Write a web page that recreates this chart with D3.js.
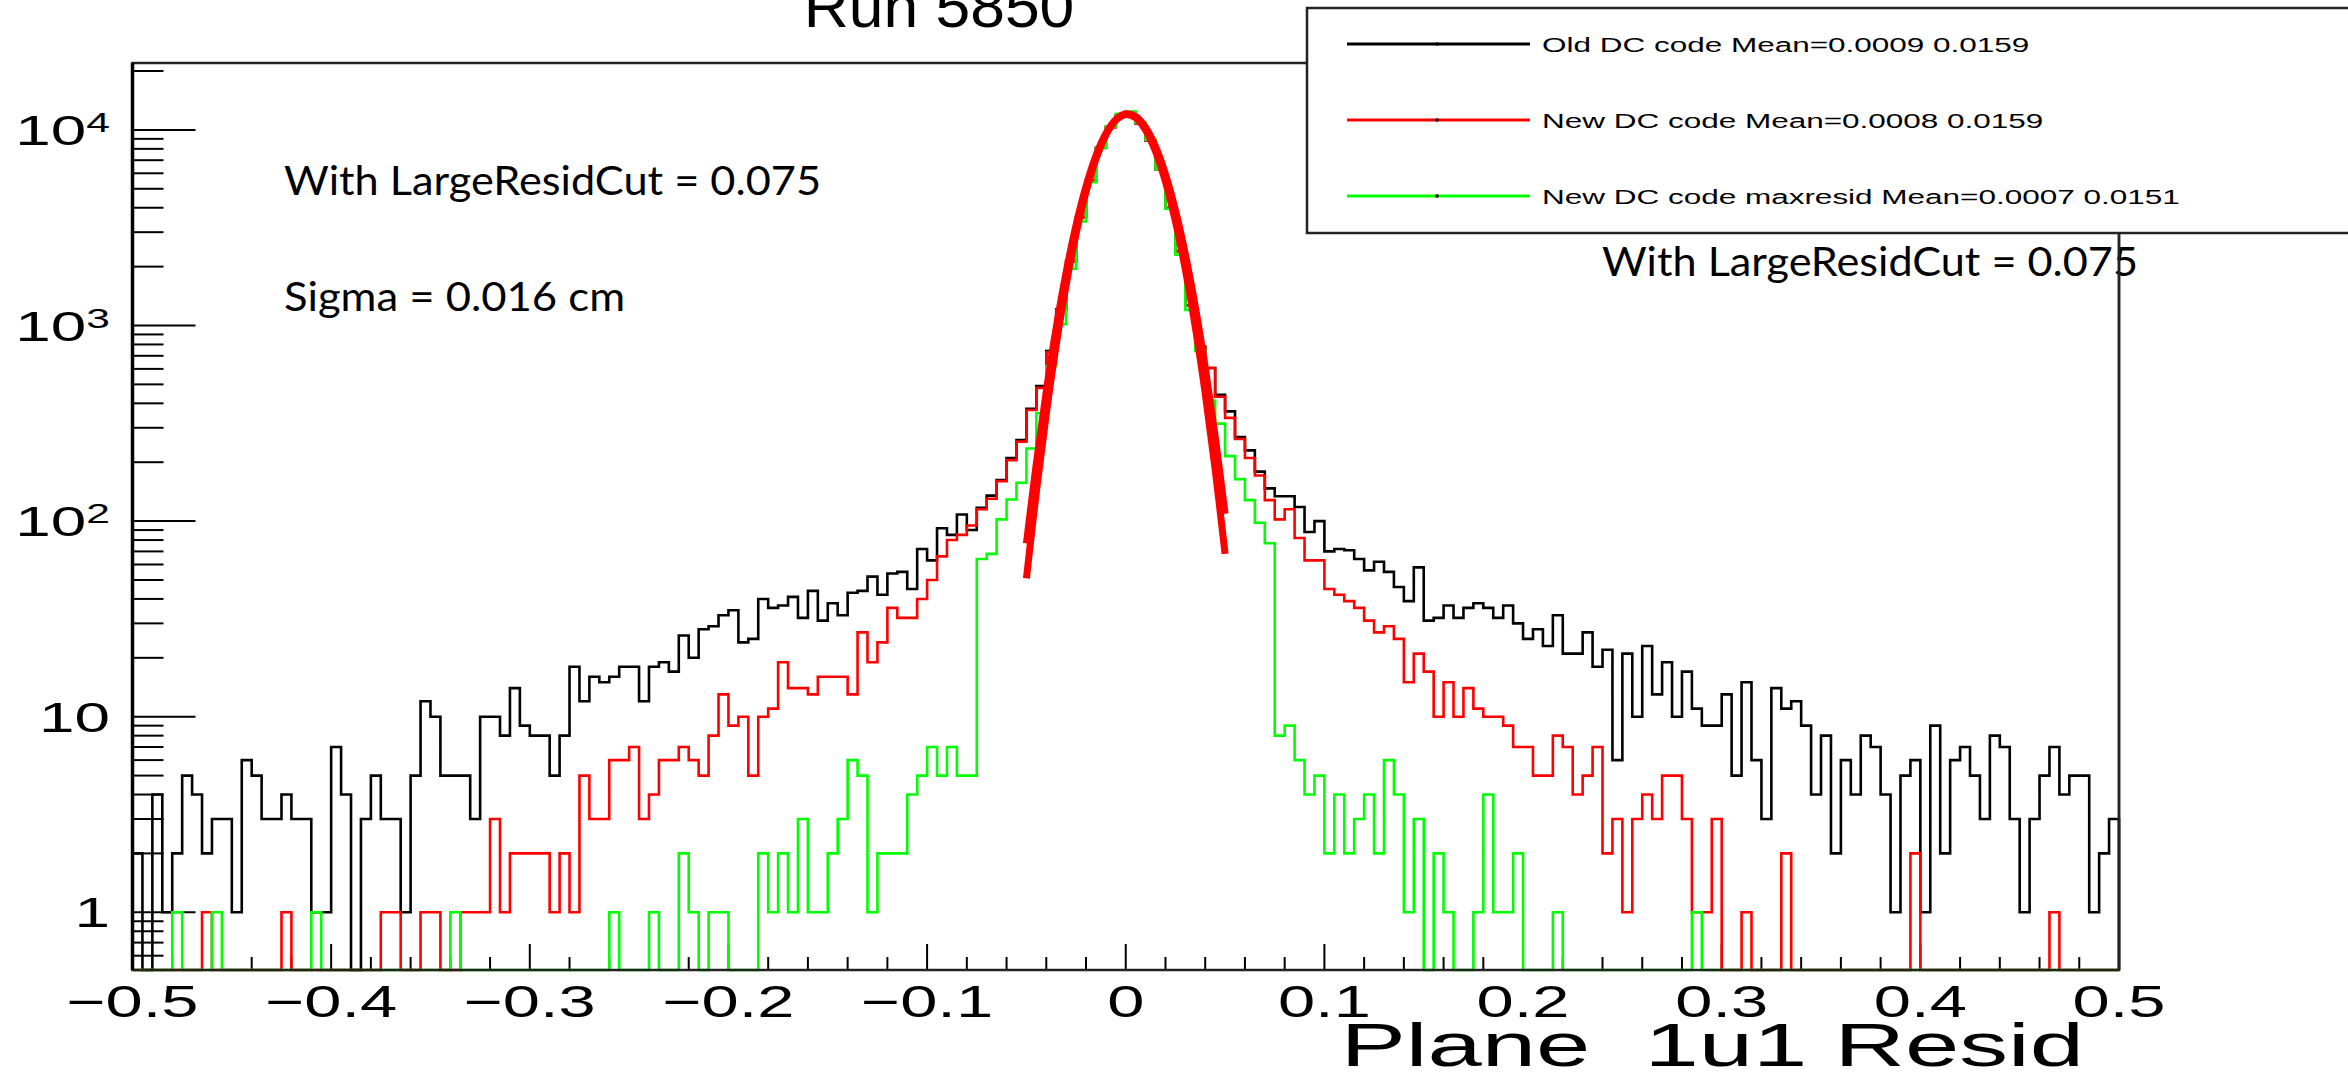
<!DOCTYPE html>
<html><head><meta charset="utf-8">
<script src="https://cdn.jsdelivr.net/npm/d3@7"></script>
<style>body{margin:0;background:#fff;overflow:hidden} text{white-space:pre}</style>
</head><body>
<svg id="c" width="2348" height="1076" xmlns="http://www.w3.org/2000/svg"></svg>
<script>
// ---------- data ----------
const xMin = -0.5, xMax = 0.5, binWidth = 0.005;
const oldCounts = [
2,0,4,1,2,5,4,2,3,3,1,6,5,3,3,4,3,3,1,1,
7,4,0,3,5,3,3,1,5,12,10,5,5,5,3,10,10,8,14,9,
8,8,5,8,18,12,16,15,16,18,18,12,18,19,17,26,20,28,29,33,
35,24,25,40,36,37,41,32,44,31,38,33,43,44,52,42,54,55,45,72,
63,92,85,108,90,117,135,162,210,260,375,490,740,1210,2140,3590,5500,8100,10350,11860,
12100,10800,8840,6300,4000,2400,1270,780,606,442,364,269,230,179,147,134,134,118,88,100,
70,72,71,64,56,62,55,46,39,58,31,32,37,32,36,38,36,32,37,30,
25,28,23,33,21,21,27,18,22,6,21,10,23,13,19,10,17,11,9,9,
13,5,15,6,3,14,11,12,9,4,8,2,6,4,8,7,4,1,5,6,
1,9,2,6,7,5,3,8,7,3,1,3,5,7,4,5,5,1,2,3];
const newCounts = [
0,0,0,0,0,0,0,1,0,0,0,0,0,0,0,1,0,0,0,0,
0,0,0,0,0,1,1,0,0,1,1,0,0,1,1,1,3,1,2,2,
2,2,1,2,1,5,3,3,6,6,7,3,4,6,6,7,6,5,8,13,
9,10,5,10,11,19,14,14,13,16,16,16,13,27,19,24,36,32,32,40,
50,66,80,85,95,115,130,160,205,255,370,480,730,1200,2120,3570,5480,8080,10330,11850,
12100,10800,8830,6280,3980,2390,1265,770,606,432,337,263,210,171,128,102,115,82,63,63,
45,42,39,36,31,27,29,25,15,21,17,10,15,10,14,11,10,10,9,7,
7,5,5,8,7,4,5,7,2,3,1,3,4,3,5,5,3,1,1,3,
0,0,1,0,0,0,2,0,0,0,0,0,0,0,0,0,0,0,0,2,
0,0,0,0,0,0,0,0,0,0,0,0,0,1,0,0,0,0,0,0];
const maxresidCounts = [
0,0,0,0,1,0,0,0,1,0,0,0,0,0,0,0,0,0,1,0,
0,0,0,0,0,0,0,0,0,0,0,0,1,0,0,0,0,0,0,0,
0,0,0,0,0,0,0,0,1,0,0,0,1,0,0,2,1,0,1,1,
0,0,0,2,1,2,1,3,1,1,2,3,6,5,1,2,2,2,4,5,
7,5,7,5,5,64,68,102,129,157,235,357,620,1016,1950,3400,5400,8100,10400,12100,
12400,10900,8900,6300,3950,2300,1200,742,413,315,215,164,128,98,77,8,9,6,4,5,
2,4,2,3,4,2,6,4,1,3,0,2,1,0,0,1,4,1,1,2,
0,0,0,1,0,0,0,0,0,0,0,0,0,0,0,0,0,1,0,0,
0,0,0,0,0,0,0,0,0,0,0,0,0,0,0,0,0,0,0,0,
0,0,0,0,0,0,0,0,0,0,0,0,0,0,0,0,0,0,0,0];
// gaussian fit curves
const fitX = [-0.05,-0.045,-0.04,-0.035,-0.03,-0.025,-0.02,-0.015,-0.01,-0.005,0,0.005,0.01,0.015,0.02,0.025,0.03,0.035,0.04,0.045,0.05];
const fitOld = [77,198,461,976,1874,3264,5156,7385,9594,11305,12081,11709,10293,8206,5934,3891,2315,1249,611,271,109];
const fitNew = [51,141,354,797,1615,2944,4823,7103,9406,11198,11988,11537,9983,7766,5433,3416,1932,982,449,184,68];
const xTickValues = [-0.5,-0.4,-0.3,-0.2,-0.1,0,0.1,0.2,0.3,0.4,0.5];
const xTickLabels = ["\u22120.5","\u22120.4","\u22120.3","\u22120.2","\u22120.1","0","0.1","0.2","0.3","0.4","0.5"];
const yTickValues = [1,10,100,1000,10000];
const yTickBase = ["1","10","10","10","10"];
const yTickExp = ["","","2","3","4"];
const legendLabels = ["Old DC code Mean=0.0009 0.0159","New DC code Mean=0.0008 0.0159","New DC code maxresid Mean=0.0007 0.0151"];
const seriesColors = ["#000000","#ff0000","#00ff00"];
const titleText = "Run 5850";
const xTitle = "Plane  1u1 Resid";
const notes = ["With LargeResidCut = 0.075","Sigma = 0.016 cm","With LargeResidCut = 0.075"];

// ---------- layout ----------
const svg = d3.select("#c");
const L = 132.5, R = 2119, T = 63, B = 970;
const x = d3.scaleLinear().domain([xMin, xMax]).range([L, R]);
const y = d3.scaleLog().domain([0.507, 21980]).range([B, T]);
const SX = 1.52; // horizontal stretch of the ROOT canvas
const rootFont = "'Liberation Sans', Arial, sans-serif";

// title (cut off at top)
svg.append("text").attr("transform", `translate(939,27) scale(1.04,1)`)
  .attr("text-anchor","middle").attr("font-family",rootFont).attr("font-size",60)
  .text(titleText);

// axes ticks
const g = svg.append("g");
const xMinor = d3.range(0, 51).map(i => xMin + i*0.02);
g.selectAll(".xt").data(xMinor).enter().append("line")
  .attr("x1", d => x(d)).attr("x2", d => x(d))
  .attr("y1", B).attr("y2", d => B - (Math.abs(Math.round(d*100)) % 10 === 0 ? 26 : 13))
  .attr("stroke","#000").attr("stroke-width",2);
const yMinor = [];
[0.1,1,10,100,1000,10000].forEach(dec => { for (let k=2;k<=9;k++){ const v=dec*k; if (v>=0.507 && v<=21980) yMinor.push(v);} });
g.selectAll(".ytm").data(yMinor).enter().append("line")
  .attr("x1", L).attr("x2", L+31).attr("y1", d=>y(d)).attr("y2", d=>y(d))
  .attr("stroke","#000").attr("stroke-width",2);
g.selectAll(".ytM").data(yTickValues).enter().append("line")
  .attr("x1", L).attr("x2", L+63).attr("y1", d=>y(d)).attr("y2", d=>y(d))
  .attr("stroke","#000").attr("stroke-width",2);

// histograms
function histPath(counts){
  const pts = [[x(xMin), B]];
  counts.forEach((c,i) => pts.push([x(xMin + i*binWidth), c>0 ? y(c) : B]));
  const n = counts.length;
  pts.push([x(xMin + n*binWidth), counts[n-1]>0 ? y(counts[n-1]) : B]);
  pts.push([x(xMin + n*binWidth), B]);
  return d3.line().curve(d3.curveStepAfter)(pts);
}
[oldCounts,newCounts,maxresidCounts].forEach((cts,k) => {
  svg.append("path").attr("d", histPath(cts)).attr("fill","none")
    .attr("stroke", seriesColors[k]).attr("stroke-width", 2.6).attr("stroke-linejoin","miter");
});

// frame
svg.append("rect").attr("x",L).attr("y",T).attr("width",R-L).attr("height",B-T)
  .attr("fill","none").attr("stroke","#222").attr("stroke-width",2.5);
svg.append("line").attr("x1",L).attr("x2",L).attr("y1",T).attr("y2",B).attr("stroke","#000").attr("stroke-width",3.5);

// fits
const fitLine = d3.line().x((d,i)=>x(fitX[i])).y(d=>y(d)).curve(d3.curveCatmullRom);
[fitOld, fitNew].forEach(f => svg.append("path").attr("d", fitLine(f)).attr("fill","none")
  .attr("stroke","#ff0000").attr("stroke-width",7));

// x labels
xTickValues.forEach((v,i) => {
  svg.append("text").attr("transform",`translate(${x(v)},1017) scale(${SX},1)`)
    .attr("text-anchor","middle").attr("font-family",rootFont).attr("font-size",44).text(xTickLabels[i]);
});
// y labels
yTickValues.forEach((v,i) => {
  const yy = y(v);
  const t = svg.append("text").attr("transform",`translate(110,${yy+15}) scale(${SX},1)`)
    .attr("text-anchor","end").attr("font-family",rootFont).attr("font-size",42);
  if (yTickExp[i]) {
    t.append("tspan").text(yTickBase[i]);
    t.append("tspan").attr("font-size",28).attr("dy",-13).text(yTickExp[i]);
  } else t.text(yTickBase[i]);
});
// x title
svg.append("text").attr("transform",`translate(2084,1066) scale(1.6,1)`)
  .attr("text-anchor","end").attr("font-family",rootFont).attr("font-size",61)
  .attr("xml:space","preserve").text(xTitle);

// legend
const lg = svg.append("g");
lg.append("rect").attr("x",1307).attr("y",8).attr("width",1100).attr("height",225)
  .attr("fill","#fff").attr("stroke","#222").attr("stroke-width",2.5);
const legY = [44,120,196];
legendLabels.forEach((lab,k) => {
  lg.append("line").attr("x1",1347).attr("x2",1530).attr("y1",legY[k]).attr("y2",legY[k])
    .attr("stroke",seriesColors[k]).attr("stroke-width",3);
  lg.append("circle").attr("cx",1437).attr("cy",legY[k]).attr("r",1.8).attr("fill","#000");
  lg.append("text").attr("transform",`translate(1542,${legY[k]+8}) scale(1.5,1)`)
    .attr("font-family",rootFont).attr("font-size",21).text(lab);
});

// slide annotations
const noteFont = "Lato, 'Open Sans', sans-serif";
const notePos = [[284,195,537],[284,311,341],[1602,276,536]];
notes.forEach((n,k) => {
  svg.append("text").attr("x",notePos[k][0]).attr("y",notePos[k][1])
    .attr("font-family",noteFont).attr("font-size",41)
    .attr("textLength",notePos[k][2]).attr("lengthAdjust","spacingAndGlyphs").text(n);
});
// frame right edge passes over the right note
svg.append("line").attr("x1",R).attr("x2",R).attr("y1",233).attr("y2",B).attr("stroke","#222").attr("stroke-width",2.5);
</script>
</body></html>
